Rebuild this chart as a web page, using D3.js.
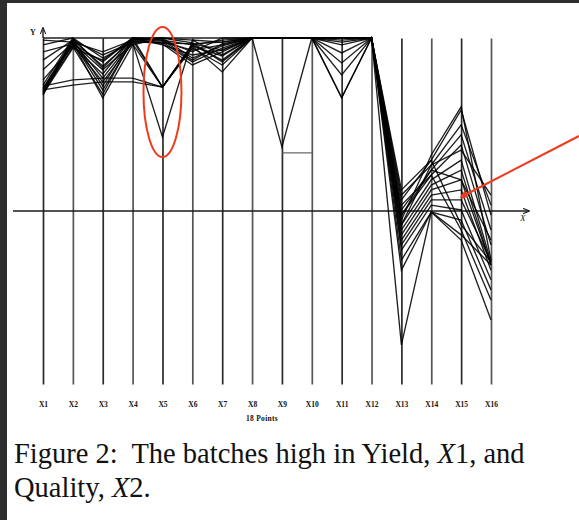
<!DOCTYPE html>
<html>
<head>
<meta charset="utf-8">
<script src="https://cdn.jsdelivr.net/npm/d3@7"></script>
<style>
  html, body { margin: 0; padding: 0; background: #ffffff; }
  svg { display: block; }
</style>
</head>
<body>
<svg id="chart" width="579" height="520"></svg>
<script>
// Variables of the process, one vertical axis each
const dims = ["X1","X2","X3","X4","X5","X6","X7","X8","X9","X10","X11","X12","X13","X14","X15","X16"];

// One array per batch (18 points), scaled 0–100 on every axis
const b01 = [100.0,100.0,100.0,100.0,100.0,100.0,100.0,100.0,100.0,100.0,100.0,100.0,54.6,63.3,74.9,51.7];
const b02 = [99.4,98.8,96.0,99.4,99.4,98.0,99.4,100.0,100.0,100.0,99.4,100.0,53.2,64.7,79.2,48.8];
const b03 = [98.0,100.0,94.2,98.8,98.8,96.5,98.0,100.0,100.0,100.0,95.7,100.0,50.3,61.8,72.0,44.5];
const b04 = [96.0,98.3,93.1,100.0,98.0,95.1,96.5,100.0,100.0,100.0,100.0,100.0,48.8,60.4,69.1,40.2];
const b05 = [93.6,99.4,91.9,99.4,100.0,99.4,95.1,100.0,100.0,100.0,92.8,100.0,47.4,66.2,80.1,35.8];
const b06 = [90.8,98.6,90.8,98.3,85.8,98.0,93.6,100.0,100.0,100.0,100.0,100.0,46.0,59.0,64.7,35.3];
const b07 = [87.9,97.7,89.6,100.0,85.8,97.1,92.2,100.0,100.0,100.0,89.3,100.0,44.5,57.5,61.8,34.4];
const b08 = [85.5,99.1,88.4,99.4,85.8,97.7,90.2,100.0,100.0,100.0,100.0,100.0,43.1,56.1,59.0,34.4];
const b09 = [85.3,98.0,87.3,98.6,71.4,99.4,98.8,100.0,100.0,100.0,82.7,100.0,41.6,54.6,56.1,32.9];
const b10 = [85.0,99.7,86.1,100.0,99.4,93.6,98.3,100.0,68.5,100.0,100.0,100.0,40.2,53.2,53.2,35.3];
const b11 = [84.7,98.8,85.0,99.1,98.8,93.1,97.1,100.0,100.0,100.0,98.8,100.0,38.7,51.7,50.3,30.1];
const b12 = [84.4,97.4,83.8,99.7,98.3,92.2,96.0,100.0,100.0,100.0,82.7,100.0,35.8,49.7,47.4,27.2];
const b13 = [84.1,98.6,82.7,98.0,100.0,94.2,97.7,100.0,100.0,100.0,100.0,100.0,56.1,64.7,46.0,35.3];
const b14 = [83.8,97.1,93.6,100.0,99.4,96.0,100.0,100.0,100.0,100.0,98.0,100.0,51.7,60.4,44.5,24.3];
const b15 = [83.5,99.4,95.1,98.8,98.6,98.3,98.8,100.0,100.0,100.0,100.0,100.0,32.9,49.7,41.6,18.5];
const b16 = [86.1,87.9,88.4,88.4,85.8,98.3,96.5,100.0,100.0,100.0,100.0,100.0,11.3,49.7,43.1,34.4];
const b17 = [85.0,86.4,87.3,87.3,85.8,97.7,94.8,100.0,100.0,100.0,100.0,100.0,46.0,63.3,67.6,54.6];
const b18 = [86.4,100.0,91.3,100.0,100.0,98.6,93.1,100.0,100.0,100.0,100.0,100.0,48.8,61.8,59.0,41.6];
const batches = [b01,b02,b03,b04,b05,b06,b07,b08,b09,b10,b11,b12,b13,b14,b15,b16,b17,b18];

// Short level mark drawn between X9 and X10
const x9x10Level = 66.8;

// Reference level of the horizontal X axis
const xAxisLevel = 50;

const captionLine1 = ["Figure 2:\u00A0 The batches high in Yield, ", "X", "1, and"];
const captionLine2 = ["Quality, ", "X", "2."];
const pointsLabel = "18 Points";

const svg = d3.select("#chart");

// page frame: dark strips on the left and top edge
svg.append("rect").attr("x", 0).attr("y", 0).attr("width", 579).attr("height", 520).attr("fill", "#ffffff");
svg.append("rect").attr("x", 0).attr("y", 0).attr("width", 7).attr("height", 520).attr("fill", "#2e2e2e");
svg.append("rect").attr("x", 0).attr("y", 0).attr("width", 579).attr("height", 3).attr("fill", "#2e2e2e");

const x = d3.scalePoint().domain(dims).range([43, 491]);
const y = d3.scaleLinear().domain([0, 100]).range([384, 38]);

// vertical axes, one per variable
dims.forEach((d, i) => {
  const g = svg.append("g")
    .attr("transform", `translate(${x(d)},0)`)
    .call(d3.axisLeft(y).tickValues([]).tickSizeOuter(0));
  g.select(".domain").attr("stroke", i % 2 ? "#555" : "#2a2a2a").attr("stroke-width", 1.7);
});

// horizontal X axis with arrow
const defs = svg.append("defs");
defs.append("marker").attr("id", "arrBlack").attr("viewBox", "0 0 10 10")
  .attr("refX", 9).attr("refY", 5).attr("markerWidth", 5).attr("markerHeight", 5)
  .attr("orient", "auto")
  .append("path").attr("d", "M0,1 L10,5 L0,9").attr("fill", "none").attr("stroke", "#222").attr("stroke-width", 1.5);
defs.append("marker").attr("id", "arrRed").attr("viewBox", "0 0 10 10")
  .attr("refX", 8).attr("refY", 5).attr("markerWidth", 4).attr("markerHeight", 4)
  .attr("orient", "auto")
  .append("path").attr("d", "M0,0 L10,5 L0,10 Z").attr("fill", "#f03a1c");

svg.append("line")
  .attr("x1", 13).attr("x2", 529)
  .attr("y1", y(xAxisLevel)).attr("y2", y(xAxisLevel))
  .attr("stroke", "#1a1a1a").attr("stroke-width", 1.4)
  .attr("marker-end", "url(#arrBlack)");
svg.append("text").attr("x", 520).attr("y", y(xAxisLevel) + 10)
  .attr("font-family", "Liberation Serif").attr("font-style", "italic").attr("font-size", 9)
  .attr("fill", "#222").text("X");

// Y arrow on top of the first axis
svg.append("line")
  .attr("x1", x("X1")).attr("x2", x("X1"))
  .attr("y1", y(100)).attr("y2", 28)
  .attr("stroke", "#1a1a1a").attr("stroke-width", 1.4)
  .attr("marker-end", "url(#arrBlack)");
svg.append("text").attr("x", 30).attr("y", 35)
  .attr("font-family", "Liberation Serif").attr("font-weight", "bold").attr("font-size", 8)
  .attr("fill", "#222").text("Y");

// batch polylines
const line = d3.line().x((v, i) => x(dims[i])).y(v => y(v));
svg.append("g").selectAll("path").data(batches).join("path")
  .attr("d", line)
  .attr("fill", "none")
  .attr("stroke", "#000")
  .attr("stroke-width", 1.35)
  .attr("stroke-opacity", 0.88)
  .attr("stroke-linejoin", "miter");

// short level mark between X9 and X10
svg.append("line")
  .attr("x1", x("X9")).attr("x2", x("X10"))
  .attr("y1", y(x9x10Level)).attr("y2", y(x9x10Level))
  .attr("stroke", "#555").attr("stroke-width", 1.1);

// variable labels under the axes
const ax = svg.append("g").attr("transform", "translate(0,396)")
  .call(d3.axisBottom(x).tickSize(0).tickPadding(6));
ax.select(".domain").remove();
ax.selectAll("text")
  .attr("font-family", "Liberation Serif").attr("font-weight", "bold")
  .attr("font-size", 7.5).attr("fill", "#111");

svg.append("text").attr("x", 262).attr("y", 421).attr("text-anchor", "middle")
  .attr("font-family", "Liberation Serif").attr("font-weight", "bold")
  .attr("font-size", 7.5).attr("letter-spacing", 0.3).attr("fill", "#111")
  .text(pointsLabel);

// red highlight around the X5 dip
svg.append("ellipse")
  .attr("cx", x("X5")).attr("cy", 92).attr("rx", 19).attr("ry", 65)
  .attr("fill", "none").attr("stroke", "#f03a1c").attr("stroke-width", 2);

// red pointer toward the X15 band
svg.append("line")
  .attr("x1", 579).attr("y1", 136).attr("x2", 461).attr("y2", 197)
  .attr("stroke", "#f03a1c").attr("stroke-width", 2)
  .attr("marker-end", "url(#arrRed)");

// caption
function caption(parts, yPos) {
  const t = svg.append("text").attr("x", 14).attr("y", yPos)
    .attr("font-family", "Liberation Serif").attr("font-size", 28.5).attr("fill", "#111");
  parts.forEach((p, i) => {
    t.append("tspan").attr("font-style", i === 1 ? "italic" : "normal").text(p);
  });
}
caption(captionLine1, 463);
caption(captionLine2, 497);
</script>
</body>
</html>
